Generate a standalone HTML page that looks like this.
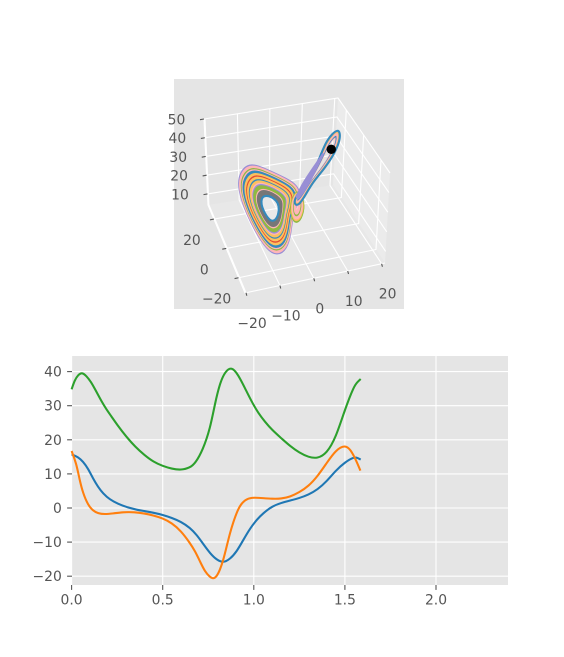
<!DOCTYPE html>
<html>
<head>
<meta charset="utf-8">
<title>Lorenz attractor</title>
<style>
html,body{margin:0;padding:0;background:#fff;}
svg{display:block;}
text{font-family:"DejaVu Sans","Liberation Sans",sans-serif;font-size:13.89px;fill:#555555;}
</style>
</head>
<body>
<svg id="fig" xmlns="http://www.w3.org/2000/svg" width="564" height="657" viewBox="0 0 564 657"></svg>
<script>
// ---------- time series chart data ----------
const blueT = [0,.035,.063,.09,.117,.145,.172,.209,.255,.31,.364,.4,.45,.5,.55,.6,.65,.687,.723,.76,.796,.833,.869,.906,.942,.979,1.02,1.05,1.1,1.15,1.2,1.25,1.3,1.35,1.4,1.45,1.5,1.55,1.57,1.59];
const blueV = [15.7,15,13.6,11.6,8.7,6.2,4.3,2.5,1.2,.1,-.6,-.9,-1.4,-2,-2.9,-4,-5.8,-7.9,-10.6,-13.3,-15.2,-16.1,-15,-12.8,-9.4,-6,-3.2,-1.6,.5,1.5,2.2,2.9,3.9,5.4,7.8,11,13.4,15,14.7,14.1];
const orangeT = [0,.026,.044,.063,.09,.117,.145,.182,.227,.282,.346,.4,.45,.5,.55,.6,.65,.677,.705,.732,.76,.778,.796,.814,.833,.851,.869,.887,.91,.93,.96,1,1.05,1.1,1.15,1.2,1.25,1.3,1.35,1.4,1.45,1.5,1.53,1.56,1.59];
const orangeV = [16.7,13.1,8.2,4.3,.9,-.8,-1.6,-1.85,-1.6,-1.2,-1.2,-1.6,-2.2,-3,-4.4,-6.7,-10.3,-12.6,-15.7,-18.7,-20.3,-20.8,-20.1,-18.2,-15.2,-11.3,-7.4,-4.2,-.8,1.2,2.7,3.1,2.9,2.7,2.7,3.3,4.6,6.4,9.3,13.2,17,18.5,17.2,14.2,10.3];
const greenT = [0,.017,.035,.057,.08,.108,.136,.163,.19,.218,.25,.3,.35,.4,.45,.5,.55,.6,.65,.68,.72,.76,.787,.814,.842,.879,.915,.952,.988,1.025,1.061,1.1,1.15,1.2,1.25,1.3,1.35,1.4,1.45,1.5,1.55,1.57,1.59];
const greenV = [34.8,37.5,39,39.8,38.8,36.9,34.1,31.4,29,26.9,24.4,20.9,17.9,15.5,13.5,12.3,11.5,11.1,11.8,13.2,17,23.2,30.7,36.6,40,41.5,39,35.1,31.2,27.8,25.3,22.9,20.5,18.1,16.2,14.9,14.5,16,20.6,28.9,35.8,37,38];
const timeTicks = [0,.5,1,1.5,2];
const timeTickLabels = ['0.0','0.5','1.0','1.5','2.0'];
const valueTicks = [-20,-10,0,10,20,30,40];
const valueTickLabels = ['\u221220','\u221210','0','10','20','30','40'];

// ---------- 3D axes data ----------
const xTicks3d = [-20,-10,0,10,20];
const xTickLabels3d = ['\u221220','\u221210','0','10','20'];
const yTicks3d = [-20,0,20];
const yTickLabels3d = ['\u221220','0','20'];
const zTicks3d = [10,20,30,40,50];
const zTickLabels3d = ['10','20','30','40','50'];

// Attractor traces, in view-plane units (u, v)
const leftOuterU = [-6.6,-.6,4.5,10.1,6.6,6.3,5,2.1,-.9,-4.2,-6.9,-9,-9.7];
const leftOuterV = [14,11.4,9.1,5.7,-2,-7.1,-12.3,-14.2,-12.3,-7.1,-1.7,4,9.4];
const leftHoleU = [-1.8,-.2,1.1,2.5,2.7,2.4,1.8,.9,-.1,-1.1,-2,-2.6,-2.6];
const leftHoleV = [3.8,3.7,3,1.6,-.5,-2.1,-3.3,-3.9,-3.5,-2.3,-.6,1.1,2.9];
const leftLevels = [1,.96,.92,.88,.84,.8,.76,.72,.68,.64,.6,.56,.52,.48,.44,.4,.36,.32,.28,.24,.2,.16,.12,.08,.04,0];
const leftColors = ['#988ED5','#FFB5B8','#FFB5B8','#8EBA42','#FFB5B8','#348ABD','#348ABD','#FBC15E','#FBC15E','#E24A33','#FBC15E','#FBC15E','#348ABD','#FBC15E','#FBC15E','#FFB5B8','#988ED5','#8EBA42','#8EBA42','#8EBA42','#FFB5B8','#777777','#777777','#777777','#777777','#348ABD'];

const lobeOuterU = [8.5,10.3,9.8,8,6.5,6.2,7.2];
const lobeOuterV = [5.4,2,-2.3,-4.8,-2.8,1,4];
const lobeInnerU = [8.4,8.6,8.4,8,7.8,7.8,8];
const lobeInnerV = [3,1.5,0,-1,-.5,1,2.4];
const lobeLevels = [1,.85,.7,.55,.4,.25,.1];
const lobeColors = ['#8EBA42','#FBC15E','#FFB5B8','#FFB5B8','#8EBA42','#FFB5B8','#FFB5B8'];

const wingOuterU = [20.7,21.3,19.5,16.5,12.9,11,8.4,6.7,9.5,12,15,16.8];
const wingOuterV = [24.5,21.1,16.6,12.1,7.9,4.6,.2,1.9,6.1,9.1,15.1,20.4];
const wingInnerU = [19.6,19.8,18.2,15.6,12.5,10.5,8.5,8,10.3,12.6,15.6,17.8];
const wingInnerV = [21.5,20,16.2,12.1,8.3,5,2.5,3,6.3,9.1,14.6,19.5];
const wingLevels = [.1,.3,.5,.7,.86,1];
const wingColors = ['#FFB5B8','#348ABD','#FFB5B8','#FFB5B8','#FBC15E','#348ABD'];

const neckU = [16,13.5,11.4,9.6,7.8];
const neckV = [16.5,12.1,8.5,5.5,2.5];
const neckSpread = [.02,.35,.55,.55,.2];
const neckOffsets = [-1,-.5,0,.5,1];
const stateU = 18.4;
const stateV = 17.7;

// ---------- helpers ----------
const NS = 'http://www.w3.org/2000/svg';
const fig = document.getElementById('fig');
function make(tag, attrs, parent) {
  const el = document.createElementNS(NS, tag);
  for (const k in attrs) el.setAttribute(k, attrs[k]);
  (parent || fig).appendChild(el);
  return el;
}
function lerp(a, b, t) { return a + (b - a) * t; }
// cubic B-spline through the read samples: keeps hand-read noise from showing as kinks
function curve(pts, closed) {
  const n = pts.length;
  const at = i => closed ? pts[(i + n) % n] : pts[Math.max(0, Math.min(n - 1, i))];
  const knot = i => {
    const a = at(i - 1), b = at(i), c = at(i + 1);
    return [(a[0] + 4 * b[0] + c[0]) / 6, (a[1] + 4 * b[1] + c[1]) / 6];
  };
  const f = v => v.toFixed(2);
  const start = closed ? knot(0) : pts[0];
  let d = 'M' + f(start[0]) + ' ' + f(start[1]);
  const from = closed ? 0 : -1;
  const to = closed ? n : n - 1;
  for (let i = from; i < to; i++) {
    const p = at(i), q = at(i + 1), e = knot(i + 1);
    d += 'C' + f((2 * p[0] + q[0]) / 3) + ' ' + f((2 * p[1] + q[1]) / 3) + ' ' +
         f((p[0] + 2 * q[0]) / 3) + ' ' + f((p[1] + 2 * q[1]) / 3) + ' ' + f(e[0]) + ' ' + f(e[1]);
  }
  return d + (closed ? 'Z' : '');
}

// ---------- 3D axes ----------
const bg3d = make('rect', {x:174, y:79, width:230, height:230, fill:'#e5e5e5'});



const xLim = [-20.3, 21], yLim = [-30.4, 29.6], zLim = [4.1, 50];
// box corners on screen, keyed by x index, y index, z index
const corners = {
  '000':[245,293], '100':[385,263], '010':[208,205], '110':[333,185],
  '001':[241,204], '101':[390,173], '011':[204,119], '111':[338,98]
};
function project(x, y, z) {
  const a = (x - xLim[0]) / (xLim[1] - xLim[0]);
  const b = (y - yLim[0]) / (yLim[1] - yLim[0]);
  const c = (z - zLim[0]) / (zLim[1] - zLim[0]);
  const out = [0, 0];
  for (let k = 0; k < 2; k++) {
    const bottom = lerp(lerp(corners['000'][k], corners['100'][k], a), lerp(corners['010'][k], corners['110'][k], a), b);
    const top = lerp(lerp(corners['001'][k], corners['101'][k], a), lerp(corners['011'][k], corners['111'][k], a), b);
    out[k] = lerp(bottom, top, c);
  }
  return out;
}
function poly(list) { return list.map(p => p[0].toFixed(2) + ',' + p[1].toFixed(2)).join(' '); }

const paneBack = make('polygon', {points: poly([project(xLim[0],yLim[1],zLim[0]),project(xLim[1],yLim[1],zLim[0]),project(xLim[1],yLim[1],zLim[1]),project(xLim[0],yLim[1],zLim[1])]), fill:'#e5e5e5'});


const paneRight = make('polygon', {points: poly([project(xLim[1],yLim[0],zLim[0]),project(xLim[1],yLim[1],zLim[0]),project(xLim[1],yLim[1],zLim[1]),project(xLim[1],yLim[0],zLim[1])]), fill:'#ebebeb'});


const paneFloor = make('polygon', {points: poly([project(xLim[0],yLim[0],zLim[0]),project(xLim[1],yLim[0],zLim[0]),project(xLim[1],yLim[1],zLim[0]),project(xLim[0],yLim[1],zLim[0])]), fill:'#e8e8e8'});



function gridPath(list, name) {
  const el = make('polyline', {points: poly(list), fill:'none', stroke:'#ffffff', 'stroke-width':1.1});
  
  
}
xTicks3d.forEach(v => gridPath([project(v,yLim[0],zLim[0]), project(v,yLim[1],zLim[0]), project(v,yLim[1],zLim[1])], 'x-gridline'));
yTicks3d.forEach(v => gridPath([project(xLim[0],v,zLim[0]), project(xLim[1],v,zLim[0]), project(xLim[1],v,zLim[1])], 'y-gridline'));
zTicks3d.forEach(v => gridPath([project(xLim[0],yLim[1],v), project(xLim[1],yLim[1],v), project(xLim[1],yLim[0],v)], 'z-gridline'));
gridPath([project(xLim[0],yLim[1],zLim[1]), project(xLim[0],yLim[1],zLim[0]), project(xLim[0],yLim[0],zLim[0]), project(xLim[1],yLim[0],zLim[0])], 'axis-edge-lines');

function tick(p, dx, dy, name) {
  const el = make('line', {x1:p[0], y1:p[1], x2:p[0]+dx, y2:p[1]+dy, stroke:'#555555', 'stroke-width':1.1});
  
  
}
function label(px, py, str, anchor, name) {
  const el = make('text', {x:px, y:py, 'text-anchor':anchor});
  el.textContent = str;
  
  
}
xTicks3d.forEach((v, i) => {
  const p = project(v, yLim[0], zLim[0]);
  tick(p, .8, 3, 'x-tick');
  label(p[0] + 6, p[1] + 35, xTickLabels3d[i], 'middle', 'x-tick-label');
});
yTicks3d.forEach((v, i) => {
  const p = project(xLim[0], v, zLim[0]);
  tick(p, -4, .8, 'y-tick');
  label(p[0] - 22, p[1] + 26, yTickLabels3d[i], 'middle', 'y-tick-label');
});
zTicks3d.forEach((v, i) => {
  const p = project(xLim[0], yLim[1], v);
  tick(p, -4, .7, 'z-tick');
  label(p[0] - 27.5, p[1] + 5.5, zTickLabels3d[i], 'middle', 'z-tick-label');
});

// view-plane scale for the attractor traces
function viewX(u) { return 270 + u * 3.33; }
function viewY(v) { return 208.3 - v * 3.33; }
function ringPoints(outU, outV, inU, inV, level) {
  return outU.map((_, i) => [viewX(lerp(inU[i], outU[i], level)), viewY(lerp(inV[i], outV[i], level))]);
}
leftLevels.forEach((lv, i) => {
  const el = make('path', {d: curve(ringPoints(leftOuterU, leftOuterV, leftHoleU, leftHoleV, lv), true), fill:'none', stroke:leftColors[i], 'stroke-width':2.1});
  
  
});
lobeLevels.forEach((lv, i) => {
  const el = make('path', {d: curve(ringPoints(lobeOuterU, lobeOuterV, lobeInnerU, lobeInnerV, lv), true), fill:'none', stroke:lobeColors[i], 'stroke-width':2.1});
  
  
});
wingLevels.forEach((lv, i) => {
  const el = make('path', {d: curve(ringPoints(wingOuterU, wingOuterV, wingInnerU, wingInnerV, lv), true), fill:'none', stroke:wingColors[i], 'stroke-width':2.1});
  
  
});
neckOffsets.forEach(off => {
  const pts = neckU.map((u, i) => [viewX(u + off * neckSpread[i]), viewY(neckV[i] - off * neckSpread[i])]);
  const el = make('path', {d: curve(pts, false), fill:'none', stroke:'#988ED5', 'stroke-width':1.6});
  
  
});
const stateDot = make('circle', {cx:viewX(stateU), cy:viewY(stateV), r:4.7, fill:'#000000'});



// ---------- time series axes ----------
const plotLeft = 72, plotRight = 508, plotTop = 356, plotBottom = 585;
function scaleT(t) { return 71.6 + t * 182.2; }
function scaleV(v) { return 508 - v * 3.41; }
const bg2d = make('rect', {x:plotLeft, y:plotTop, width:plotRight-plotLeft, height:plotBottom-plotTop, fill:'#e5e5e5'});



timeTicks.forEach((t, i) => {
  const px = scaleT(t);
  const g = make('line', {x1:px, y1:plotTop, x2:px, y2:plotBottom, stroke:'#ffffff', 'stroke-width':1.1});
  
  
  tick([px, plotBottom], 0, 4.9, 'time-tick');
  label(px, 604.6, timeTickLabels[i], 'middle', 'time-tick-label');
});
valueTicks.forEach((v, i) => {
  const py = scaleV(v);
  const g = make('line', {x1:plotLeft, y1:py, x2:plotRight, y2:py, stroke:'#ffffff', 'stroke-width':1.1});
  
  
  tick([plotLeft, py], -4.9, 0, 'value-tick');
  label(61.8, py + 5, valueTickLabels[i], 'end', 'value-tick-label');
});
function seriesPath(ts, vs, color, name) {
  const pts = ts.map((t, i) => [scaleT(t), scaleV(vs[i])]);
  const el = make('path', {d: curve(pts, false), fill:'none', stroke:color, 'stroke-width':2.08});
  
  
}
seriesPath(blueT, blueV, '#1f77b4', 'x-series-line');
seriesPath(orangeT, orangeV, '#ff7f0e', 'y-series-line');
seriesPath(greenT, greenV, '#2ca02c', 'z-series-line');
</script>
</body>
</html>
